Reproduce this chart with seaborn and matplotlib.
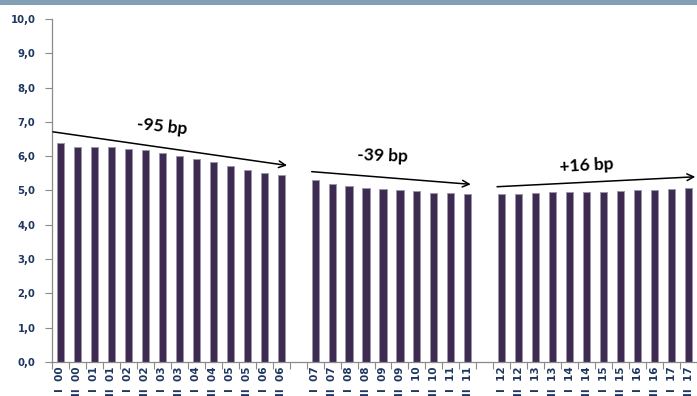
import matplotlib
matplotlib.use("Agg")
import matplotlib.pyplot as plt
from matplotlib.patches import Rectangle
import seaborn as sns
import pandas as pd

# Half-year periods (I / II semester of each year); blanks separate the three phases
periods = (
    ["I 00", "II 00", "I 01", "II 01", "I 02", "II 02", "I 03", "II 03",
     "I 04", "II 04", "I 05", "II 05", "I 06", "II 06", ""]
    + ["I 07", "II 07", "I 08", "II 08", "I 09", "II 09", "I 10", "II 10",
       "I 11", "II 11", " "]
    + ["I 12", "II 12", "I 13", "II 13", "I 14", "II 14", "I 15", "II 15",
       "I 16", "II 16", "I 17", "II 17"]
)

rates_2000_2006 = [6.39, 6.27, 6.27, 6.26, 6.21, 6.18, 6.10, 6.01,
                   5.93, 5.84, 5.71, 5.61, 5.51, 5.44]
rates_2007_2011 = [5.30, 5.19, 5.13, 5.07, 5.05, 5.02, 4.98, 4.94, 4.92, 4.91]
rates_2012_2017 = [4.90, 4.90, 4.92, 4.95, 4.96, 4.97, 4.97, 4.98,
                   5.00, 5.02, 5.04, 5.06]
separator_value = -0.06

values = (rates_2000_2006 + [separator_value]
          + rates_2007_2011 + [separator_value]
          + rates_2012_2017)

trend_labels = ["-95 bp", "-39 bp", "+16 bp"]

df = pd.DataFrame({"period": periods, "rate": values})

sns.set_theme(style="white")
plt.rcParams["font.family"] = ["DejaVu Sans"]

W, H = 697, 396
fig = plt.figure(figsize=(W / 100, H / 100), dpi=100)
ax = fig.add_axes([52 / W, 1 - 362 / H, (W - 52) / W, (362 - 19) / H])

sns.barplot(data=df, x="period", y="rate", order=periods, color="#3d2b52",
            saturation=1, width=0.42, edgecolor="#9c95a8", linewidth=0.7, ax=ax)

ax.set_xlim(-0.5, len(periods) - 0.5)
ax.set_ylim(0, 10)
ax.set_yticks(range(0, 11))
ax.set_yticklabels([f"{v},0" for v in range(0, 11)])
ax.set_xlabel("")
ax.set_ylabel("")

# Category ticks sit on the boundaries between bars, labels under each bar
ax.set_xticks([i - 0.5 for i in range(len(periods) + 1)], minor=False)
ax.set_xticklabels([])
ax.set_xticks(range(len(periods)), minor=True)
ax.set_xticklabels([p.replace(" ", "  ") for p in periods], minor=True,
                   rotation=90, fontsize=7.5, color="#1f3760", fontweight="bold")
ax.tick_params(axis="x", which="major", length=5, width=0.8, color="#8a8a8a",
               direction="out", bottom=True)
ax.tick_params(axis="x", which="minor", length=0, pad=3)
ax.tick_params(axis="y", length=5, width=0.8, color="#8a8a8a", direction="out",
               left=True, pad=7, labelsize=7.3, labelcolor="#1f3760")
for lab in ax.get_yticklabels():
    lab.set_fontweight("bold")

for side in ["top", "right"]:
    ax.spines[side].set_visible(False)
for side in ["left", "bottom"]:
    ax.spines[side].set_color("#8a8a8a")
    ax.spines[side].set_linewidth(0.9)

# Trend arrows over each phase
arrows = [((-0.44, 6.71), (13.35, 5.73)),
          ((14.80, 5.55), (24.17, 5.18)),
          ((25.72, 5.11), (37.40, 5.40))]
for (x0, y0), (x1, y1) in arrows:
    ax.annotate("", xy=(x1, y1), xytext=(x0, y0), annotation_clip=False,
                arrowprops=dict(arrowstyle="->", color="black", lw=1.1,
                                mutation_scale=12, shrinkA=0, shrinkB=0))

label_pos = [(6.0, 6.86, -6), (18.95, 6.0, -2), (31.0, 5.74, 3)]
for text, (x, y, rot) in zip(trend_labels, label_pos):
    ax.text(x, y, text, ha="center", va="center", rotation=rot,
            fontsize=12.5, fontweight="bold", family="Lato", color="black")

# Header band along the top edge
fig.patches.append(Rectangle((0, 1 - 5 / H), 1, 5 / H, transform=fig.transFigure,
                             facecolor="#829fb5", edgecolor="none", zorder=5))

fig.savefig("out.png", dpi=100)
